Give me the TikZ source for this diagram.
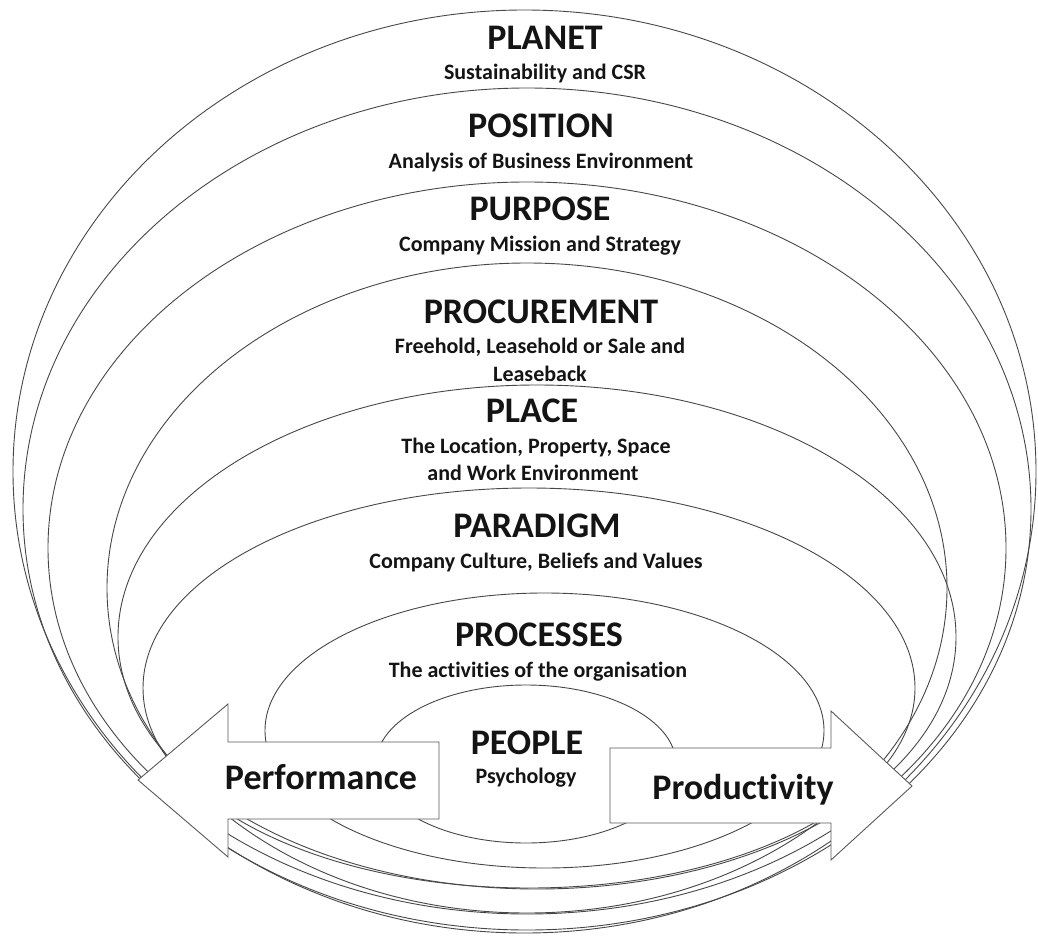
\documentclass[tikz,border=0pt]{standalone}
\usepackage{fontspec}
\setmainfont[Ligatures=NoCommon]{Carlito}
\tikzset{
  ring/.style={draw=black!72, line width=0.9pt},
  bigarrow/.style={draw=black!65, line width=0.9pt, fill=white, line join=miter},
  title/.style={anchor=base, inner sep=0pt, font=\fontsize{36}{40}\selectfont\bfseries, text=black!92},
  sub/.style={anchor=base, inner sep=0pt, font=\fontsize{22}{26}\selectfont\bfseries, text=black!92},
  arrowlabel/.style={anchor=base, inner sep=0pt, font=\fontsize{36}{40}\selectfont\bfseries, text=black!92}
}
\begin{document}
\begin{tikzpicture}[x=1pt,y=-1pt]
\useasboundingbox (0,0) rectangle (1038,936);
\fill[white] (0,0) rectangle (1038,936);

% nested rings
\draw[ring] (524.5,471.5) ellipse [x radius=511.5pt, y radius=461.5pt];
\draw[ring] (527,509) ellipse [x radius=504pt, y radius=421pt];
\draw[ring] (527,548) ellipse [x radius=479pt, y radius=366pt];
\draw[ring] (527,588) ellipse [x radius=420pt, y radius=325pt];
\draw[ring] (537,637) ellipse [x radius=419pt, y radius=252pt];
\draw[ring] (529,688) ellipse [x radius=386pt, y radius=200pt];
\draw[ring] (544.5,730.5) ellipse [x radius=279.5pt, y radius=137.5pt];
\draw[ring] (526,764) ellipse [x radius=150pt, y radius=79pt];

% arrows
\draw[bigarrow] (138,780) -- (228,704) -- (228,742) -- (439,742) -- (439,819) -- (228,819) -- (228,857) -- cycle;
\draw[bigarrow] (610,748) -- (831,748) -- (831,711) -- (912,786) -- (831,860) -- (831,823) -- (610,823) -- cycle;

% texts
\node[title] (planet) at (545,50) {PLANET};
\node[sub] (planetsub) at (545,80) {Sustainability and CSR};
\node[title] (position) at (541,138) {POSITION};
\node[sub] (positionsub) at (541,169) {Analysis of Business Environment};
\node[title] (purpose) at (540,220) {PURPOSE};
\node[sub] (purposesub) at (540,251) {Company Mission and Strategy};
\node[title] (procurement) at (541,323) {PROCUREMENT};
\node[sub] (procsubA) at (540,353) {Freehold, Leasehold or Sale and};
\node[sub] (procsubB) at (540,381) {Leaseback};
\node[title] (place) at (532,422) {PLACE};
\node[sub] (placesubA) at (536,453) {The Location, Property, Space};
\node[sub] (placesubB) at (533,480) {and Work Environment};
\node[title] (paradigm) at (537,537) {PARADIGM};
\node[sub] (paradigmsub) at (536,568) {Company Culture, Beliefs and Values};
\node[title] (processes) at (539,646) {PROCESSES};
\node[sub] (processessub) at (538,677) {The activities of the organisation};
\node[title] (people) at (527,754) {PEOPLE};
\node[sub] (peoplesub) at (526,783) {Psychology};
\node[arrowlabel] (performance) at (321,789) {Performance};
\node[arrowlabel] (productivity) at (743,799) {Productivity};
\end{tikzpicture}
\end{document}
